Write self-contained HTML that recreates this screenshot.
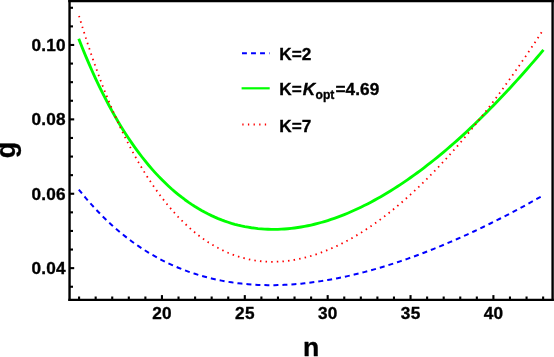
<!DOCTYPE html>
<html><head><meta charset="utf-8"><title>plot</title>
<style>
html,body{margin:0;padding:0;background:#fff;}
body{width:554px;height:357px;overflow:hidden;}
svg{display:block;will-change:transform;font-family:"Liberation Sans",sans-serif;font-weight:bold;fill:#000;}
text{stroke:#000;stroke-width:0.35px;stroke-linejoin:round;}
</style></head><body>
<svg width="554" height="357" viewBox="0 0 554 357">
<rect x="0" y="0" width="554" height="357" fill="#fff"/>
<g fill="none" stroke-linecap="butt" stroke-linejoin="round">
<path d="M78.75 189.43 L82.07 193.55 L85.39 197.54 L88.71 201.41 L92.03 205.15 L95.35 208.77 L98.67 212.27 L101.99 215.66 L105.31 218.93 L108.63 222.10 L111.95 225.16 L115.27 228.12 L118.59 230.98 L121.90 233.74 L125.22 236.40 L128.54 238.97 L131.86 241.45 L135.18 243.84 L138.50 246.15 L141.82 248.37 L145.14 250.50 L148.46 252.56 L151.78 254.54 L155.10 256.44 L158.42 258.26 L161.74 260.02 L165.06 261.70 L168.38 263.31 L171.69 264.85 L175.01 266.32 L178.33 267.73 L181.65 269.07 L184.97 270.35 L188.29 271.57 L191.61 272.73 L194.93 273.82 L198.25 274.87 L201.57 275.85 L204.89 276.78 L208.21 277.65 L211.53 278.47 L214.85 279.24 L218.17 279.96 L221.48 280.62 L224.80 281.24 L228.12 281.81 L231.44 282.33 L234.76 282.80 L238.08 283.23 L241.40 283.61 L244.72 283.95 L248.04 284.25 L251.36 284.50 L254.68 284.71 L258.00 284.88 L261.32 285.01 L264.64 285.10 L267.96 285.15 L271.27 285.16 L274.59 285.14 L277.91 285.07 L281.23 284.97 L284.55 284.84 L287.87 284.67 L291.19 284.46 L294.51 284.22 L297.83 283.95 L301.15 283.64 L304.47 283.30 L307.79 282.93 L311.11 282.53 L314.43 282.09 L317.75 281.63 L321.07 281.13 L324.38 280.60 L327.70 280.05 L331.02 279.46 L334.34 278.85 L337.66 278.21 L340.98 277.54 L344.30 276.84 L347.62 276.12 L350.94 275.37 L354.26 274.59 L357.58 273.79 L360.90 272.96 L364.22 272.11 L367.54 271.23 L370.86 270.32 L374.17 269.39 L377.49 268.44 L380.81 267.47 L384.13 266.47 L387.45 265.44 L390.77 264.40 L394.09 263.33 L397.41 262.24 L400.73 261.12 L404.05 259.99 L407.37 258.83 L410.69 257.65 L414.01 256.45 L417.33 255.23 L420.65 253.99 L423.96 252.73 L427.28 251.45 L430.60 250.14 L433.92 248.82 L437.24 247.48 L440.56 246.12 L443.88 244.74 L447.20 243.34 L450.52 241.92 L453.84 240.48 L457.16 239.03 L460.48 237.55 L463.80 236.06 L467.12 234.55 L470.44 233.03 L473.75 231.48 L477.07 229.92 L480.39 228.34 L483.71 226.74 L487.03 225.13 L490.35 223.50 L493.67 221.85 L496.99 220.19 L500.31 218.51 L503.63 216.81 L506.95 215.10 L510.27 213.37 L513.59 211.62 L516.91 209.86 L520.23 208.09 L523.54 206.30 L526.86 204.49 L530.18 202.67 L533.50 200.83 L536.82 198.98 L540.14 197.12 L543.46 195.24" stroke="#0000ff" stroke-width="2.0" stroke-dasharray="5.0 4.012" stroke-dashoffset="-0.1"/>
<path d="M78.75 38.76 L82.07 47.20 L85.39 55.34 L88.71 63.18 L92.03 70.76 L95.35 78.06 L98.67 85.11 L101.99 91.90 L105.31 98.46 L108.63 104.78 L111.95 110.88 L115.27 116.76 L118.59 122.42 L121.90 127.89 L125.22 133.16 L128.54 138.23 L131.86 143.12 L135.18 147.84 L138.50 152.37 L141.82 156.74 L145.14 160.94 L148.46 164.98 L151.78 168.85 L155.10 172.58 L158.42 176.15 L161.74 179.57 L165.06 182.85 L168.38 185.99 L171.69 189.00 L175.01 191.87 L178.33 194.61 L181.65 197.23 L184.97 199.73 L188.29 202.11 L191.61 204.37 L194.93 206.52 L198.25 208.56 L201.57 210.49 L204.89 212.31 L208.21 214.03 L211.53 215.65 L214.85 217.16 L218.17 218.58 L221.48 219.90 L224.80 221.13 L228.12 222.26 L231.44 223.31 L234.76 224.26 L238.08 225.13 L241.40 225.91 L244.72 226.61 L248.04 227.22 L251.36 227.76 L254.68 228.21 L258.00 228.59 L261.32 228.89 L264.64 229.12 L267.96 229.27 L271.27 229.35 L274.59 229.36 L277.91 229.31 L281.23 229.18 L284.55 228.98 L287.87 228.72 L291.19 228.39 L294.51 227.99 L297.83 227.53 L301.15 227.00 L304.47 226.41 L307.79 225.75 L311.11 225.03 L314.43 224.25 L317.75 223.41 L321.07 222.50 L324.38 221.54 L327.70 220.52 L331.02 219.45 L334.34 218.31 L337.66 217.12 L340.98 215.87 L344.30 214.57 L347.62 213.21 L350.94 211.79 L354.26 210.32 L357.58 208.79 L360.90 207.21 L364.22 205.58 L367.54 203.90 L370.86 202.16 L374.17 200.38 L377.49 198.54 L380.81 196.66 L384.13 194.72 L387.45 192.74 L390.77 190.71 L394.09 188.63 L397.41 186.50 L400.73 184.33 L404.05 182.10 L407.37 179.83 L410.69 177.52 L414.01 175.15 L417.33 172.74 L420.65 170.29 L423.96 167.78 L427.28 165.24 L430.60 162.64 L433.92 160.00 L437.24 157.32 L440.56 154.60 L443.88 151.83 L447.20 149.02 L450.52 146.16 L453.84 143.27 L457.16 140.33 L460.48 137.35 L463.80 134.33 L467.12 131.27 L470.44 128.16 L473.75 125.01 L477.07 121.81 L480.39 118.58 L483.71 115.30 L487.03 111.98 L490.35 108.62 L493.67 105.23 L496.99 101.79 L500.31 98.32 L503.63 94.81 L506.95 91.27 L510.27 87.69 L513.59 84.07 L516.91 80.41 L520.23 76.72 L523.54 72.99 L526.86 69.23 L530.18 65.43 L533.50 61.59 L536.82 57.71 L540.14 53.80 L543.46 49.86" stroke="#00ff00" stroke-width="2.85"/>
<path d="M78.75 15.03 L82.07 26.02 L85.39 36.61 L88.71 46.83 L92.03 56.67 L95.35 66.16 L98.67 75.31 L101.99 84.13 L105.31 92.63 L108.63 100.83 L111.95 108.73 L115.27 116.34 L118.59 123.68 L121.90 130.74 L125.22 137.55 L128.54 144.11 L131.86 150.42 L135.18 156.50 L138.50 162.36 L141.82 168.00 L145.14 173.42 L148.46 178.64 L151.78 183.65 L155.10 188.47 L158.42 193.09 L161.74 197.52 L165.06 201.77 L168.38 205.84 L171.69 209.74 L175.01 213.46 L178.33 217.02 L181.65 220.42 L184.97 223.67 L188.29 226.76 L191.61 229.69 L194.93 232.48 L198.25 235.13 L201.57 237.63 L204.89 239.99 L208.21 242.21 L211.53 244.29 L214.85 246.24 L218.17 248.06 L221.48 249.76 L224.80 251.34 L228.12 252.79 L231.44 254.13 L234.76 255.36 L238.08 256.47 L241.40 257.46 L244.72 258.35 L248.04 259.14 L251.36 259.82 L254.68 260.40 L258.00 260.87 L261.32 261.25 L264.64 261.53 L267.96 261.71 L271.27 261.80 L274.59 261.79 L277.91 261.69 L281.23 261.50 L284.55 261.23 L287.87 260.86 L291.19 260.40 L294.51 259.86 L297.83 259.24 L301.15 258.53 L304.47 257.73 L307.79 256.86 L311.11 255.91 L314.43 254.88 L317.75 253.77 L321.07 252.59 L324.38 251.33 L327.70 250.00 L331.02 248.60 L334.34 247.13 L337.66 245.58 L340.98 243.97 L344.30 242.28 L347.62 240.52 L350.94 238.69 L354.26 236.79 L357.58 234.81 L360.90 232.77 L364.22 230.67 L367.54 228.49 L370.86 226.25 L374.17 223.95 L377.49 221.58 L380.81 219.14 L384.13 216.65 L387.45 214.09 L390.77 211.46 L394.09 208.78 L397.41 206.03 L400.73 203.21 L404.05 200.34 L407.37 197.40 L410.69 194.40 L414.01 191.35 L417.33 188.23 L420.65 185.05 L423.96 181.81 L427.28 178.52 L430.60 175.17 L433.92 171.76 L437.24 168.29 L440.56 164.77 L443.88 161.19 L447.20 157.56 L450.52 153.87 L453.84 150.13 L457.16 146.34 L460.48 142.49 L463.80 138.58 L467.12 134.62 L470.44 130.61 L473.75 126.54 L477.07 122.42 L480.39 118.25 L483.71 114.02 L487.03 109.75 L490.35 105.42 L493.67 101.04 L496.99 96.61 L500.31 92.12 L503.63 87.59 L506.95 83.01 L510.27 78.38 L513.59 73.70 L516.91 68.97 L520.23 64.19 L523.54 59.36 L526.86 54.48 L530.18 49.56 L533.50 44.58 L536.82 39.56 L540.14 34.48 L543.46 29.37" stroke="#ff0000" stroke-width="1.8" stroke-dasharray="1.5 4.131" stroke-dashoffset="-0.9"/>
</g>
<g stroke="#000" stroke-width="2.1" fill="none">
<line x1="79.08" y1="299.80" x2="79.08" y2="296.50"/><line x1="95.66" y1="299.80" x2="95.66" y2="296.50"/><line x1="112.23" y1="299.80" x2="112.23" y2="296.50"/><line x1="128.80" y1="299.80" x2="128.80" y2="296.50"/><line x1="145.38" y1="299.80" x2="145.38" y2="296.50"/><line x1="161.95" y1="299.80" x2="161.95" y2="295.10"/><line x1="178.52" y1="299.80" x2="178.52" y2="296.50"/><line x1="195.10" y1="299.80" x2="195.10" y2="296.50"/><line x1="211.67" y1="299.80" x2="211.67" y2="296.50"/><line x1="228.24" y1="299.80" x2="228.24" y2="296.50"/><line x1="244.81" y1="299.80" x2="244.81" y2="295.10"/><line x1="261.39" y1="299.80" x2="261.39" y2="296.50"/><line x1="277.96" y1="299.80" x2="277.96" y2="296.50"/><line x1="294.53" y1="299.80" x2="294.53" y2="296.50"/><line x1="311.11" y1="299.80" x2="311.11" y2="296.50"/><line x1="327.68" y1="299.80" x2="327.68" y2="295.10"/><line x1="344.25" y1="299.80" x2="344.25" y2="296.50"/><line x1="360.83" y1="299.80" x2="360.83" y2="296.50"/><line x1="377.40" y1="299.80" x2="377.40" y2="296.50"/><line x1="393.97" y1="299.80" x2="393.97" y2="296.50"/><line x1="410.54" y1="299.80" x2="410.54" y2="295.10"/><line x1="427.12" y1="299.80" x2="427.12" y2="296.50"/><line x1="443.69" y1="299.80" x2="443.69" y2="296.50"/><line x1="460.26" y1="299.80" x2="460.26" y2="296.50"/><line x1="476.84" y1="299.80" x2="476.84" y2="296.50"/><line x1="493.41" y1="299.80" x2="493.41" y2="295.10"/><line x1="509.98" y1="299.80" x2="509.98" y2="296.50"/><line x1="526.56" y1="299.80" x2="526.56" y2="296.50"/><line x1="543.13" y1="299.80" x2="543.13" y2="296.50"/><line x1="69.55" y1="286.74" x2="73.00" y2="286.74"/><line x1="69.55" y1="268.14" x2="74.20" y2="268.14"/><line x1="69.55" y1="249.54" x2="73.00" y2="249.54"/><line x1="69.55" y1="230.95" x2="73.00" y2="230.95"/><line x1="69.55" y1="212.35" x2="73.00" y2="212.35"/><line x1="69.55" y1="193.75" x2="74.20" y2="193.75"/><line x1="69.55" y1="175.15" x2="73.00" y2="175.15"/><line x1="69.55" y1="156.56" x2="73.00" y2="156.56"/><line x1="69.55" y1="137.96" x2="73.00" y2="137.96"/><line x1="69.55" y1="119.36" x2="74.20" y2="119.36"/><line x1="69.55" y1="100.77" x2="73.00" y2="100.77"/><line x1="69.55" y1="82.17" x2="73.00" y2="82.17"/><line x1="69.55" y1="63.57" x2="73.00" y2="63.57"/><line x1="69.55" y1="44.98" x2="74.20" y2="44.98"/><line x1="69.55" y1="26.38" x2="73.00" y2="26.38"/><line x1="69.55" y1="7.78" x2="73.00" y2="7.78"/>
</g>
<g stroke="#000" fill="none" stroke-linecap="square">
<line x1="69.55" y1="0.95" x2="69.55" y2="299.8" stroke-width="2.4"/>
<line x1="552.6" y1="0.95" x2="552.6" y2="299.8" stroke-width="2.4"/>
<line x1="69.55" y1="0.95" x2="552.6" y2="0.95" stroke-width="2.6"/>
<line x1="69.55" y1="299.8" x2="552.6" y2="299.8" stroke-width="2.35"/>
</g>
<g font-size="17.2px"><text x="161.95" y="319.4" text-anchor="middle" letter-spacing="0.3" dx="0.15">20</text><text x="244.81" y="319.4" text-anchor="middle" letter-spacing="0.3" dx="0.15">25</text><text x="327.68" y="319.4" text-anchor="middle" letter-spacing="0.3" dx="0.15">30</text><text x="410.54" y="319.4" text-anchor="middle" letter-spacing="0.3" dx="0.15">35</text><text x="493.41" y="319.4" text-anchor="middle" letter-spacing="0.3" dx="0.15">40</text><text x="65.65" y="274.19" text-anchor="end" letter-spacing="0.15">0.04</text><text x="65.65" y="199.80" text-anchor="end" letter-spacing="0.15">0.06</text><text x="65.65" y="125.41" text-anchor="end" letter-spacing="0.15">0.08</text><text x="65.65" y="51.03" text-anchor="end" letter-spacing="0.15">0.10</text></g>
<text x="311.15" y="355.5" font-size="26.6px" text-anchor="middle">n</text>
<text transform="translate(15.3,150.1) rotate(-90)" font-size="26.8px" text-anchor="middle">g</text>
<g fill="none">
<line x1="241.6" y1="53.3" x2="269.6" y2="53.3" stroke="#0000ff" stroke-width="2" stroke-dasharray="4.9 4.13" stroke-dashoffset="-0.4"/>
<line x1="241.6" y1="88.3" x2="269.7" y2="88.3" stroke="#00ff00" stroke-width="2.2"/>
<line x1="242.3" y1="124.55" x2="268" y2="124.55" stroke="#ff0000" stroke-width="1.9" stroke-dasharray="1.3 4.33"/>
</g>
<g font-size="17.2px">
<text x="279.3" y="59.5">K=2</text>
<text x="279.3" y="95.4">K=<tspan font-style="italic" dx="0.9">K</tspan><tspan font-size="12.1px" dy="3.1" dx="0.5">opt</tspan><tspan dy="-3.1" dx="1.1" letter-spacing="0.08">=4.69</tspan></text>
<text x="279.3" y="132.0">K=7</text>
</g>
</svg>
</body></html>
